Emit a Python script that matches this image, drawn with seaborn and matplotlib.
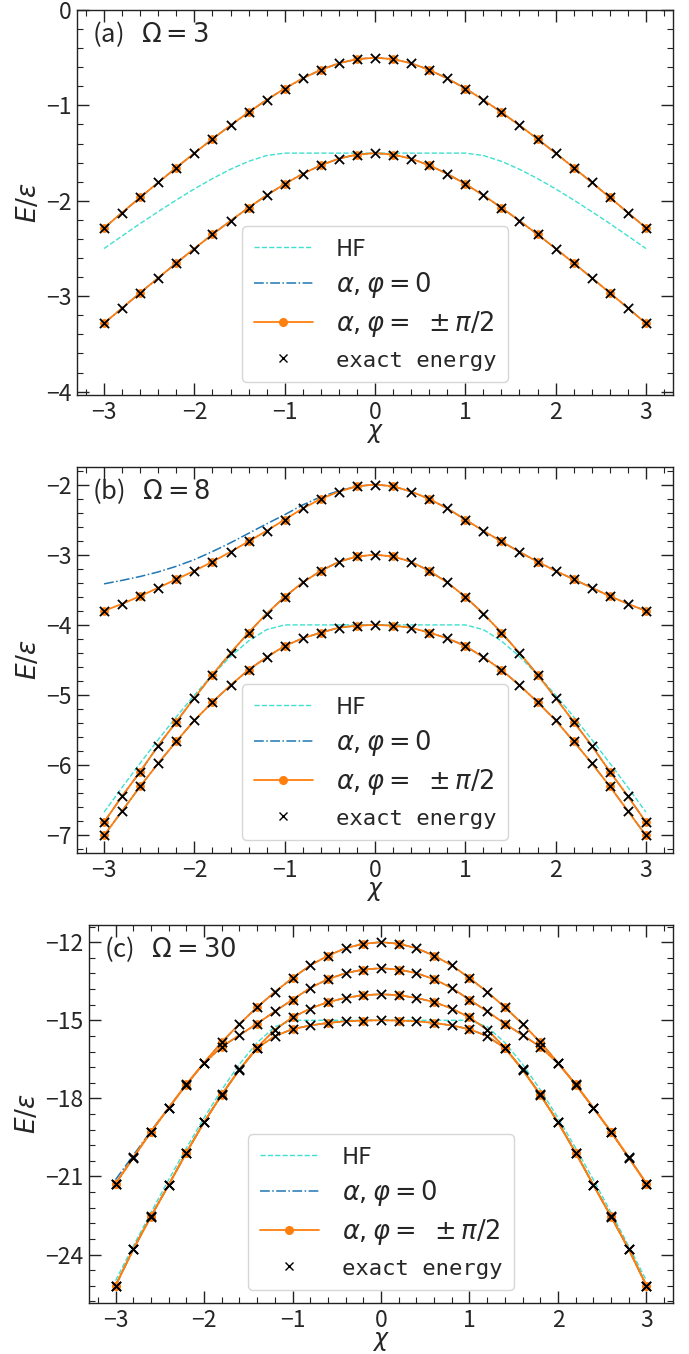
import matplotlib
matplotlib.use("Agg")
import matplotlib.pyplot as plt
from matplotlib.lines import Line2D
from matplotlib.ticker import MultipleLocator
import seaborn as sns

# coupling strength grid
chi = [-3.0, -2.8, -2.6, -2.4, -2.2, -2.0, -1.8, -1.6, -1.4, -1.2, -1.0,
       -0.8, -0.6, -0.4, -0.2, 0.0, 0.2, 0.4, 0.6, 0.8, 1.0, 1.2, 1.4,
       1.6, 1.8, 2.0, 2.2, 2.4, 2.6, 2.8, 3.0]

# Energies on chi = 0, 0.2, ..., 3.0 (spectra are symmetric in chi)
# (a) Omega = 3
a_hf = [-1.5, -1.5, -1.5, -1.5, -1.5, -1.5, -1.525, -1.586, -1.669, -1.767,
        -1.875, -1.991, -2.113, -2.238, -2.368, -2.5]
a_lvl1 = [-1.5, -1.515, -1.558, -1.627, -1.717, -1.823, -1.942, -2.072, -2.209,
          -2.352, -2.5, -2.652, -2.807, -2.964, -3.123, -3.284]
a_lvl2 = [-0.5, -0.515, -0.558, -0.627, -0.717, -0.823, -0.942, -1.072, -1.209,
          -1.352, -1.5, -1.652, -1.807, -1.964, -2.123, -2.284]

# (b) Omega = 8
b_hf = [-4.0, -4.0, -4.0, -4.0, -4.0, -4.0, -4.067, -4.229, -4.45, -4.711,
        -5.0, -5.309, -5.633, -5.969, -6.314, -6.667]
b_lvl1 = [-4.0, -4.01, -4.04, -4.11, -4.19, -4.30, -4.46, -4.64, -4.86, -5.10,
          -5.36, -5.66, -5.97, -6.30, -6.65, -7.00]
b_lvl2 = [-3.0, -3.025, -3.10, -3.23, -3.395, -3.60, -3.84, -4.11, -4.40, -4.71,
          -5.04, -5.38, -5.72, -6.09, -6.44, -6.81]
b_lvl3 = [-2.0, -2.025, -2.10, -2.205, -2.34, -2.50, -2.66, -2.81, -2.96, -3.10,
          -3.23, -3.35, -3.47, -3.59, -3.70, -3.80]
# phi = 0 solution for the third level on the negative-chi side (chi = 0 ... -3)
b_lvl3_phi0_neg = [-2.0, -2.025, -2.09, -2.175, -2.29, -2.43, -2.56, -2.695,
                   -2.83, -2.955, -3.07, -3.165, -3.245, -3.31, -3.365, -3.415]

# (c) Omega = 30
c_hf = [-15.0, -15.0, -15.0, -15.0, -15.0, -15.0, -15.25, -15.857, -16.688,
        -17.667, -18.75, -19.909, -21.125, -22.385, -23.679, -25.0]
c_lvl1 = [-15.0, -15.01, -15.04, -15.10, -15.20, -15.34, -15.61, -16.07, -16.90,
          -17.86, -18.92, -20.09, -21.33, -22.54, -23.80, -25.20]
c_lvl2 = [-14.0, -14.035, -14.14, -14.30, -14.55, -14.89, -15.36, -16.05, -16.89,
          -17.85, -18.91, -20.08, -21.32, -22.53, -23.79, -25.19]
c_lvl3 = [-13.0, -13.05, -13.19, -13.42, -13.76, -14.21, -14.66, -15.13, -15.57,
          -16.02, -16.65, -17.47, -18.37, -19.29, -20.28, -21.28]
c_lvl4 = [-12.0, -12.06, -12.23, -12.52, -12.89, -13.38, -13.91, -14.50, -15.14,
          -15.84, -16.63, -17.46, -18.36, -19.28, -20.27, -21.27]
c_lvl4_phi0_neg = [-12.0, -12.06, -12.23, -12.52, -12.89, -13.38, -13.91, -14.50,
                   -15.14, -15.84, -16.63, -17.46, -18.36, -19.25, -20.19, -21.12]

panel_tags = ["(a)", "(b)", "(c)"]
omegas = [3, 8, 30]
legend_labels = ["HF", r"$\alpha,\varphi=0$", r"$\alpha,\varphi=\ \pm\pi/2$",
                 "exact energy"]


def sym(half):
    """Full chi = -3..3 curve from its chi >= 0 half."""
    return half[:0:-1] + half


def sym2(neg, pos):
    """Full curve from separate chi <= 0 and chi >= 0 halves."""
    return neg[:0:-1] + pos


HF_COLOR = "#40e0d0"
PHI0_COLOR = "#1f77b4"
PI2_COLOR = "#ff7f0e"
INK = "#222222"

sns.set_theme(style="ticks")
plt.rcParams["font.family"] = ["Noto Sans CJK SC", "DejaVu Sans"]
plt.rcParams["mathtext.fontset"] = "dejavusans"
plt.rcParams["axes.unicode_minus"] = True

W, H = 689, 1354
fig = plt.figure(figsize=(W / 100, H / 100), dpi=100)

boxes = [(77, 10, 673, 395), (77, 467, 673, 853), (89, 925, 673, 1303)]

panels = [
    dict(hf=a_hf,
         phi0=[sym(a_lvl1), sym(a_lvl2)],
         pi2=[sym(a_lvl1), sym(a_lvl2)],
         exact=[sym(a_lvl1), sym(a_lvl2)],
         ylim=(-4.035, 0.0), ymaj=1, ymin=0.2),
    dict(hf=b_hf,
         phi0=[sym(b_lvl1), sym(b_lvl2), sym2(b_lvl3_phi0_neg, b_lvl3)],
         pi2=[sym(b_lvl1), sym(b_lvl2), sym(b_lvl3)],
         exact=[sym(b_lvl1), sym(b_lvl2), sym(b_lvl3)],
         ylim=None, ymaj=1, ymin=0.2),
    dict(hf=c_hf,
         phi0=[sym(c_lvl1), sym(c_lvl2), sym(c_lvl3), sym2(c_lvl4_phi0_neg, c_lvl4)],
         pi2=[sym(c_lvl1), sym(c_lvl2), sym(c_lvl3), sym(c_lvl4)],
         exact=[sym(c_lvl1), sym(c_lvl2), sym(c_lvl3), sym(c_lvl4)],
         ylim=None, ymaj=3, ymin=0.6),
]

for (l, t, r, b), p, tag, om in zip(boxes, panels, panel_tags, omegas):
    ax = fig.add_axes([l / W, 1 - b / H, (r - l) / W, (b - t) / H])

    sns.lineplot(x=chi, y=sym(p["hf"]), ax=ax, color=HF_COLOR, lw=1.0,
                 linestyle="--", zorder=2)
    for e in p["phi0"]:
        sns.lineplot(x=chi, y=e, ax=ax, color=PHI0_COLOR, lw=1.1,
                     linestyle="-.", zorder=3)
    for e in p["pi2"]:
        sns.lineplot(x=chi, y=e, ax=ax, color=PI2_COLOR, lw=1.3,
                     marker="o", markersize=5.5, markevery=2,
                     mec=PI2_COLOR, mfc=PI2_COLOR, zorder=4)
    for e in p["exact"]:
        sns.scatterplot(x=chi, y=e, ax=ax, marker="x", s=44, color="black",
                        linewidth=1.3, zorder=5)

    ax.set_xlim(-3.3, 3.3)
    if p["ylim"] is not None:
        ax.set_ylim(*p["ylim"])
    ax.xaxis.set_major_locator(MultipleLocator(1))
    ax.xaxis.set_minor_locator(MultipleLocator(0.2))
    ax.yaxis.set_major_locator(MultipleLocator(p["ymaj"]))
    ax.yaxis.set_minor_locator(MultipleLocator(p["ymin"]))
    ax.tick_params(which="both", direction="in", top=True, right=True, color=INK)
    ax.tick_params(which="major", length=8.5, width=1.0, labelsize=16.5, pad=4)
    ax.tick_params(which="minor", length=4, width=0.8)
    for s in ax.spines.values():
        s.set_color(INK)
        s.set_linewidth(1.0)

    ax.set_xlabel(r"$\chi$", fontsize=17, labelpad=-1)
    ax.set_ylabel(r"$E/\varepsilon$", fontsize=19, labelpad=3)

    ax.text(0.025, 0.975, tag + r"   $\Omega=" + str(om) + "$",
            transform=ax.transAxes, ha="left", va="top", fontsize=18.5)

    handles = [
        Line2D([], [], color=HF_COLOR, lw=1.0, linestyle="--"),
        Line2D([], [], color=PHI0_COLOR, lw=1.1, linestyle="-."),
        Line2D([], [], color=PI2_COLOR, lw=1.3, marker="o", markersize=5.5),
        Line2D([], [], color="black", linestyle="", marker="x", markersize=5.5,
               markeredgewidth=1.0),
    ]
    leg = ax.legend(handles, legend_labels, loc="lower center", fontsize=18.5,
                    handlelength=2.3, handletextpad=0.9, labelspacing=0.36,
                    borderpad=0.45, framealpha=0.8, edgecolor="#cccccc",
                    fancybox=True)
    texts = leg.get_texts()
    texts[0].set_fontsize(17)
    texts[3].set_fontfamily(["DejaVu Sans Mono"])
    texts[3].set_fontsize(16)

fig.savefig("out.png", dpi=100)
